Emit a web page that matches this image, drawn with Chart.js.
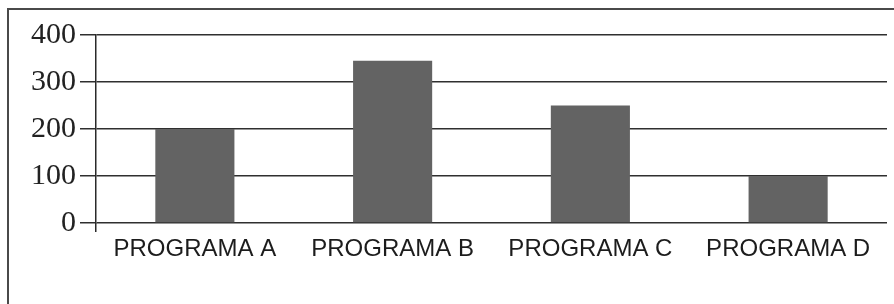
<!DOCTYPE html>
<html>
<head>
<meta charset="utf-8">
<script src="https://cdn.jsdelivr.net/npm/chart.js@4"></script>
<style>
  body { margin: 0; background: #fff; }
  #wrap { width: 894px; height: 304px; position: relative; }
</style>
</head>
<body>
<div id="wrap"><canvas id="barChart"></canvas></div>
<script>
var programas = ['PROGRAMA A', 'PROGRAMA B', 'PROGRAMA C', 'PROGRAMA D']
var valores = [200, 345, 250, 100]
var yTicks = [0, 100, 200, 300, 400]

// frame around the picture (left and top edge only, the rest is cut off)
var framePlugin = {
    id: 'frame',
    beforeDraw: function (chart) {
        var ctx = chart.ctx
        ctx.save()
        ctx.strokeStyle = '#4a4a4a'
        ctx.lineWidth = 2
        ctx.beginPath()
        ctx.moveTo(8, 304)
        ctx.lineTo(8, 9)
        ctx.lineTo(894, 9)
        ctx.stroke()
        ctx.restore()
    }
}

var barCanvas = document.getElementById('barChart').getContext('2d')
new Chart(barCanvas, {
    type: 'bar',
    data: {
        labels: programas,
        datasets: [{
            data: valores,
            backgroundColor: '#636363',
            borderWidth: 0,
            barPercentage: 0.4,
            categoryPercentage: 1
        }]
    },
    options: {
        responsive: true,
        maintainAspectRatio: false,
        animation: false,
        layout: { padding: { top: 35, right: 7, left: 0, bottom: 0 } },
        plugins: { legend: { display: false }, tooltip: { enabled: false } },
        scales: {
            x: {
                grid: {
                    offset: true,
                    drawOnChartArea: false,
                    tickLength: 9,
                    lineWidth: 1.5,
                    tickColor: function (c) { return c.index === 0 ? '#2a2a2a' : 'rgba(0,0,0,0)' }
                },
                border: { display: false },
                ticks: {
                    color: '#1c1c1c',
                    padding: 3,
                    maxRotation: 0,
                    font: { family: 'Liberation Sans', size: 24 }
                },
                afterFit: function (axis) { axis.height = 81 }
            },
            y: {
                min: 0,
                max: 400,
                afterBuildTicks: function (axis) {
                    axis.ticks = yTicks.map(function (v) { return { value: v } })
                },
                grid: {
                    color: '#2f2f2f',
                    lineWidth: 1.5,
                    tickLength: 16,
                    tickColor: '#2f2f2f'
                },
                border: { display: true, color: '#2a2a2a', width: 1.5 },
                ticks: {
                    color: '#222',
                    padding: 4,
                    font: { family: 'Liberation Serif', size: 30 }
                },
                afterFit: function (axis) { axis.width = 96 }
            }
        }
    },
    plugins: [framePlugin]
})
</script>
</body>
</html>
